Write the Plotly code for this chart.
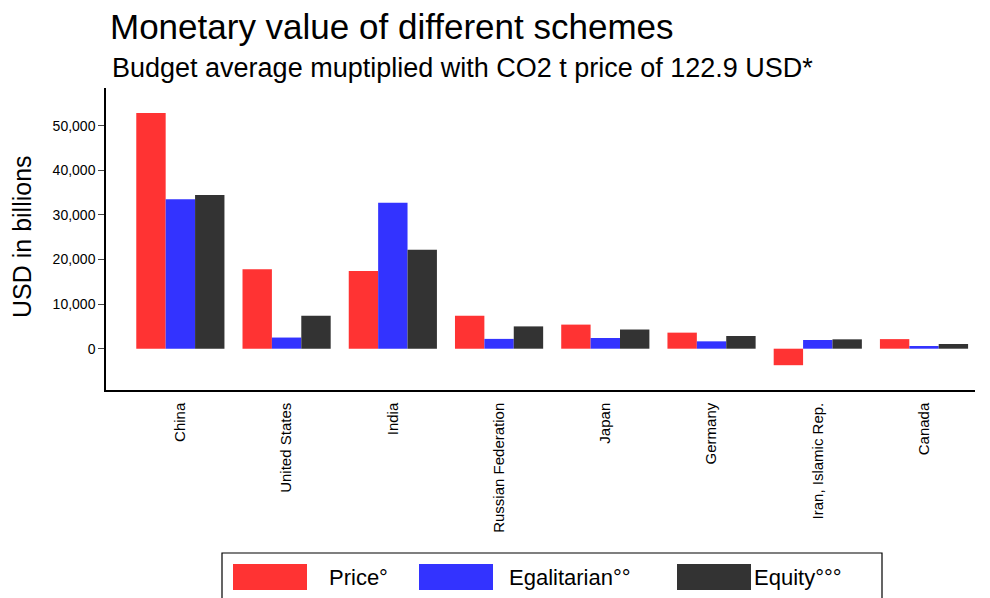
import plotly.graph_objects as go

# ── Data ───────────────────────────────────────────────────────────────────────
countries = ["China", "United States", "India", "Russian Federation", "Japan",
             "Germany", "Iran, Islamic Rep.", "Canada"]
price = [52850, 17800, 17400, 7400, 5400, 3600, -3700, 2150]
egalitarian = [33500, 2500, 32700, 2200, 2400, 1650, 1950, 600]
equity = [34450, 7400, 22200, 5000, 4300, 2850, 2100, 1050]

series_names = ["Price°", "Egalitarian°°", "Equity°°°"]
series_colors = ["#FF3333", "#3333FF", "#333333"]

# ── Layout geometry (screen pixels; page body adds an 8px offset) ─────────────
OFF = 8
W, H = 990 - OFF, 598 - OFF
L, R, T, B = 106, 975, 88, 390   # plot area on screen


def px(x):
    return (x - L) / (R - L)


def py(y):
    return (B - y) / (B - T)


FONT = "Liberation Sans, Arial, sans-serif"

fig = go.Figure()
for name, vals, col in zip(series_names, [price, egalitarian, equity], series_colors):
    fig.add_trace(go.Bar(x=countries, y=vals, name=name,
                         marker=dict(color=col, line=dict(width=0))))

# hand-made legend (big swatches, boxed)
shapes = [dict(type="rect", xref="paper", yref="paper",
               x0=px(222), x1=px(882), y0=py(620), y1=py(553),
               line=dict(color="black", width=1.2), fillcolor="white")]
annotations = []
swatch_x = [233, 419, 677]
text_x = [327, 507, 752]
for sx, tx, name, col in zip(swatch_x, text_x, series_names, series_colors):
    shapes.append(dict(type="rect", xref="paper", yref="paper",
                       x0=px(sx), x1=px(sx + 74), y0=py(590), y1=py(564),
                       line=dict(width=0), fillcolor=col))
    annotations.append(dict(text=name, xref="paper", yref="paper",
                            x=px(tx), y=py(577), xanchor="left", yanchor="middle",
                            showarrow=False, font=dict(size=22, color="black", family=FONT)))

annotations += [
    dict(text="Monetary value of different schemes", xref="paper", yref="paper",
         x=px(108), y=py(26), xanchor="left", yanchor="middle", showarrow=False,
         font=dict(size=35, color="black", family=FONT)),
    dict(text="Budget average muptiplied with CO2 t price of 122.9 USD*",
         xref="paper", yref="paper", x=px(110), y=py(68), xanchor="left",
         yanchor="middle", showarrow=False,
         font=dict(size=27, color="black", family=FONT)),
    dict(text="USD in billions", xref="paper", yref="paper", x=px(22), y=py(237),
         xanchor="center", yanchor="middle", textangle=-90, showarrow=False,
         font=dict(size=25, color="black", family=FONT)),
]

fig.update_layout(
    width=W, height=H,
    margin=dict(l=L - OFF, r=W - (R - OFF), t=T - OFF, b=H - (B - OFF)),
    paper_bgcolor="white", plot_bgcolor="white",
    font=dict(family=FONT, color="black"),
    barmode="group", bargap=0.17, bargroupgap=0,
    showlegend=False,
    shapes=shapes, annotations=annotations,
    xaxis=dict(
        range=[-0.7, 7.48], showline=True, linecolor="black", linewidth=1.5,
        showgrid=False, zeroline=False, tickangle=-90,
        ticks="outside", ticklen=5, tickcolor="rgba(0,0,0,0)",
        tickfont=dict(size=15, family=FONT),
    ),
    yaxis=dict(
        range=[-9260, 58450], showline=True, linecolor="black", linewidth=1.5,
        showgrid=False, zeroline=False, ticks="outside", ticklen=6,
        tickvals=[0, 10000, 20000, 30000, 40000, 50000], tickformat=",d",
        tickfont=dict(size=14, family=FONT),
    ),
)

fig.write_html("out.html")
